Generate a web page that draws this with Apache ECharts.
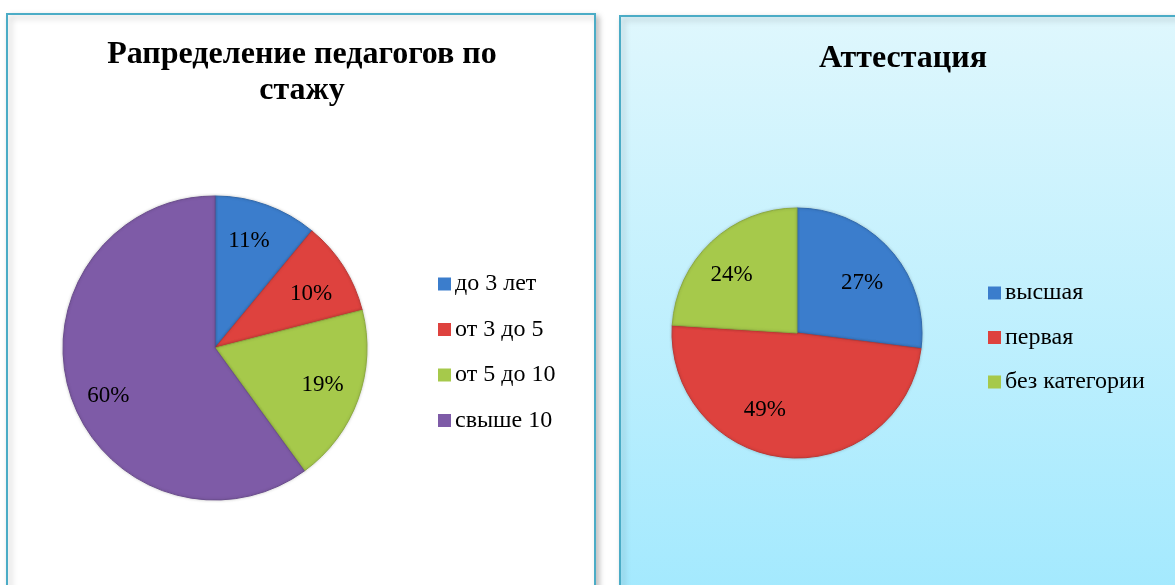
<!DOCTYPE html>
<html>
<head>
<meta charset="utf-8">
<script src="https://cdn.jsdelivr.net/npm/echarts@6/dist/echarts.min.js"></script>
<style>
html,body{margin:0;padding:0;background:#fff;}
#c{width:1175px;height:585px;}
</style>
</head>
<body>
<div id="c"></div>
<script>
// Data
const stazhCategories = ['до 3 лет', 'от 3 до 5', 'от 5 до 10', 'свыше 10'];
const stazhValues = [11, 10, 19, 60];
const attCategories = ['высшая', 'первая', 'без категории'];
const attValues = [27, 49, 24];
const titleLeft = 'Рапределение педагогов по\nстажу';
const titleRight = 'Аттестация';

// Styling (kept separate from data)
const colorsLeft = ['#3b7dcc', '#de423e', '#a6c94b', '#7e5ba7'];
const colorsRight = ['#3b7dcc', '#de423e', '#a6c94b'];
// small label nudges imitating Excel's best-fit label placement
const labelNudgeLeft = [[-3, -4], [4, 4], [5, 0], [-3, 14]];
const labelNudgeRight = [[1, 6], [-24, -8], [-7, 4]];

const serif = '"Liberation Serif", "Times New Roman", serif';

function darker(hex, f) {
  const n = parseInt(hex.slice(1), 16);
  const r = Math.round(((n >> 16) & 255) * f), g = Math.round(((n >> 8) & 255) * f), b = Math.round((n & 255) * f);
  return 'rgb(' + r + ',' + g + ',' + b + ')';
}
function mkData(cats, vals, colors) {
  return cats.map((n, i) => ({ name: n, value: vals[i], itemStyle: { color: colors[i], borderColor: darker(colors[i], 0.85) } }));
}
function mkLabelData(cats, vals, nudges) {
  return cats.map((n, i) => ({ name: n, value: vals[i], label: { offset: nudges[i] } }));
}

const chart = echarts.init(document.getElementById('c'), null, { renderer: 'canvas' });

const option = {
  animation: false,
  graphic: [
    {
      type: 'rect', z: -10,
      shape: { x: 7, y: 14, width: 588, height: 620 },
      style: { fill: '#ffffff', stroke: '#4bacc6', lineWidth: 2,
        shadowBlur: 6, shadowOffsetX: 3, shadowOffsetY: 3, shadowColor: 'rgba(0,0,0,0.25)' }
    },
    {
      type: 'rect', z: -10,
      shape: { x: 620, y: 16, width: 620, height: 620 },
      style: {
        fill: new echarts.graphic.LinearGradient(0, 0, 0, 1, [
          { offset: 0, color: '#dff7fd' },
          { offset: 1, color: '#9fe8fe' }
        ]),
        stroke: '#4bacc6', lineWidth: 2,
        shadowBlur: 6, shadowOffsetX: 3, shadowOffsetY: 3, shadowColor: 'rgba(0,0,0,0.25)'
      }
    }
  ],
  title: [
    {
      text: titleLeft, left: 297, top: 32, textAlign: 'center',
      textStyle: { fontFamily: serif, fontWeight: 'bold', fontSize: 32, lineHeight: 36, color: '#000' }
    },
    {
      text: titleRight, left: 898, top: 36, textAlign: 'center',
      textStyle: { fontFamily: serif, fontWeight: 'bold', fontSize: 32, lineHeight: 36, color: '#000' }
    }
  ],
  legend: [
    {
      data: stazhCategories, orient: 'vertical', left: 433, top: 267,
      icon: 'rect', itemWidth: 13, itemHeight: 13, itemGap: 21.5, itemStyle: { borderWidth: 0 },
      selectedMode: false,
      textStyle: { fontFamily: serif, fontSize: 24, lineHeight: 24, color: '#000', padding: [0, 0, 0, -1] }
    },
    {
      data: attCategories, orient: 'vertical', left: 983, top: 276,
      icon: 'rect', itemWidth: 13, itemHeight: 13, itemGap: 20.5, itemStyle: { borderWidth: 0 },
      selectedMode: false,
      textStyle: { fontFamily: serif, fontSize: 24, lineHeight: 24, color: '#000', padding: [0, 0, 0, -1] }
    }
  ],
  series: [
    {
      type: 'pie', center: [215, 348], radius: [0, 152], startAngle: 90, clockwise: true,
      data: mkData(stazhCategories, stazhValues, colorsLeft),
      label: { show: false }, labelLine: { show: false },
      itemStyle: { borderWidth: 1, shadowBlur: 3, shadowColor: 'rgba(0,0,0,0.2)' },
      emphasis: { disabled: true }
    },
    {
      type: 'pie', center: [797, 333], radius: [0, 125], startAngle: 90, clockwise: true,
      data: mkData(attCategories, attValues, colorsRight),
      label: { show: false }, labelLine: { show: false },
      itemStyle: { borderWidth: 1, shadowBlur: 3, shadowColor: 'rgba(0,0,0,0.2)' },
      emphasis: { disabled: true }
    },
    {
      type: 'pie', center: [215, 348], radius: [60, 152], startAngle: 90, clockwise: true,
      data: mkLabelData(stazhCategories, stazhValues, labelNudgeLeft), silent: true, z: 5,
      itemStyle: { color: 'rgba(0,0,0,0)', borderWidth: 0 },
      label: { show: true, position: 'inside', formatter: '{c}%',
        fontFamily: serif, fontSize: 23, color: '#000' },
      labelLine: { show: false }, emphasis: { disabled: true }
    },
    {
      type: 'pie', center: [797, 333], radius: [40, 125], startAngle: 90, clockwise: true,
      data: mkLabelData(attCategories, attValues, labelNudgeRight), silent: true, z: 5,
      itemStyle: { color: 'rgba(0,0,0,0)', borderWidth: 0 },
      label: { show: true, position: 'inside', formatter: '{c}%',
        fontFamily: serif, fontSize: 23, color: '#000' },
      labelLine: { show: false }, emphasis: { disabled: true }
    }
  ]
};
chart.setOption(option);
</script>
</body>
</html>
